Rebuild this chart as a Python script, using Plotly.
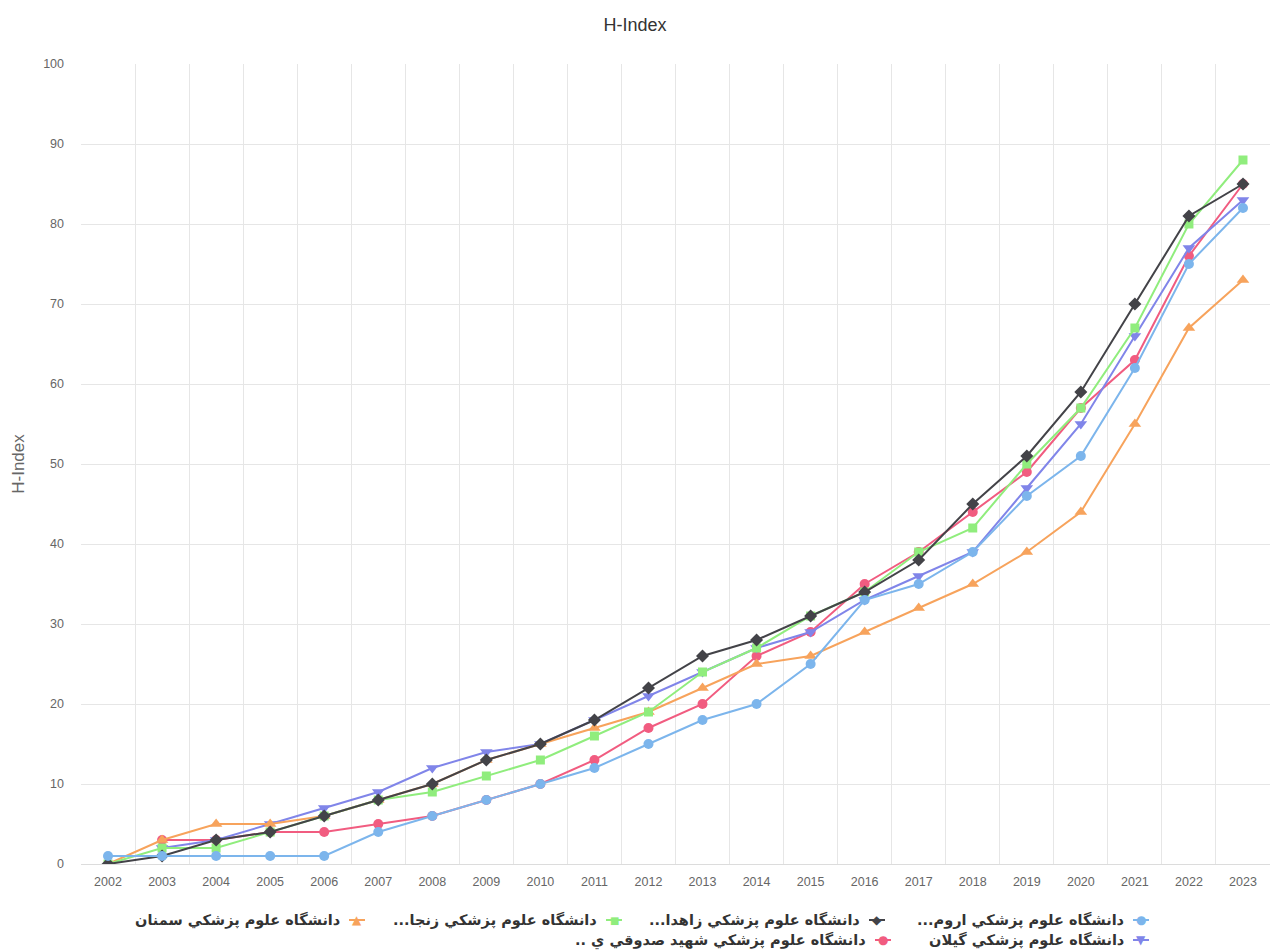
import plotly.graph_objects as go

years = ["2002", "2003", "2004", "2005", "2006", "2007", "2008", "2009", "2010", "2011", "2012",
         "2013", "2014", "2015", "2016", "2017", "2018", "2019", "2020", "2021", "2022", "2023"]

names = [
    "دانشگاه علوم پزشکي اروم...",
    "دانشگاه علوم پزشکي زاهدا...",
    "دانشگاه علوم پزشکي زنجا...",
    "دانشگاه علوم پزشکي سمنان",
    "دانشگاه علوم پزشکي گيلان",
    "دانشگاه علوم پزشکي شهيد صدوقي ي ..",
]

urmia = [1, 1, 1, 1, 1, 4, 6, 8, 10, 12, 15, 18, 20, 25, 33, 35, 39, 46, 51, 62, 75, 82]
zahedan = [0, 1, 3, 4, 6, 8, 10, 13, 15, 18, 22, 26, 28, 31, 34, 38, 45, 51, 59, 70, 81, 85]
zanjan = [0, 2, 2, 4, 6, 8, 9, 11, 13, 16, 19, 24, 27, 31, 34, 39, 42, 50, 57, 67, 80, 88]
semnan = [0, 3, 5, 5, 6, 8, 10, 13, 15, 17, 19, 22, 25, 26, 29, 32, 35, 39, 44, 55, 67, 73]
gilan = [None, 2, 3, 5, 7, 9, 12, 14, 15, 18, 21, 24, 27, 29, 33, 36, 39, 47, 55, 66, 77, 83]
yazd = [None, 3, 3, 4, 4, 5, 6, 8, 10, 13, 17, 20, 26, 29, 35, 39, 44, 49, 57, 63, 76, 85]

series = [urmia, zahedan, zanjan, semnan, gilan, yazd]
colors = ["#7cb5ec", "#434348", "#90ed7d", "#f7a35c", "#8085e9", "#f15c80"]
symbols = ["circle", "diamond", "square", "triangle-up", "triangle-down", "circle"]
sizes = [10, 10, 9, 11, 11, 10]
glyphs = ["●", "◆", "■", "▲", "▼", "●"]

fig = go.Figure()
# draw order: later-listed series underneath
for i in [5, 4, 3, 2, 1, 0]:
    fig.add_trace(go.Scatter(
        x=years, y=series[i], name=names[i], mode="lines+markers",
        line=dict(color=colors[i], width=2),
        marker=dict(symbol=symbols[i], size=sizes[i], color=colors[i]),
        connectgaps=False,
    ))

W, H = 1270, 951
L, T, B = 81, 64, 87
PW, PH = W - L, H - T - B

def px(x):
    return (x - L) / PW

def py(y):
    return (H - B - y) / PH

# custom RTL legend: (series index, text right edge px, row y px)
legend_items = [(0, 1126, 920), (1, 862, 920), (2, 599, 920), (3, 342, 920),
                (4, 1126, 940), (5, 868, 940)]
annotations = []
shapes = []
for idx, xr, yr in legend_items:
    annotations.append(dict(
        xref="paper", yref="paper", x=px(xr), y=py(yr), xanchor="right", yanchor="middle",
        text="<b>" + names[idx] + "\u200f</b>", showarrow=False,
        font=dict(family="DejaVu Sans", size=14.5, color="#333333")))
    cx = xr + 15
    shapes.append(dict(type="line", xref="paper", yref="paper",
                       x0=px(cx - 8), x1=px(cx + 8), y0=py(yr), y1=py(yr),
                       line=dict(color=colors[idx], width=2)))
    annotations.append(dict(
        xref="paper", yref="paper", x=px(cx), y=py(yr), xanchor="center", yanchor="middle",
        text=glyphs[idx], showarrow=False,
        font=dict(family="DejaVu Sans", size=12 if glyphs[idx] != "■" else 10, color=colors[idx])))

fig.update_layout(
    width=W, height=H,
    margin=dict(l=L, r=0, t=T, b=B),
    paper_bgcolor="white", plot_bgcolor="white",
    showlegend=False,
    font=dict(family="Liberation Sans, Arial, sans-serif", color="#666666"),
    title=dict(text="H-Index", x=0.5, xanchor="center", y=1 - 25 / H, yanchor="middle",
               font=dict(size=18, color="#333333")),
    xaxis=dict(type="category", tickson="boundaries", showgrid=True, gridcolor="#e6e6e6",
               gridwidth=1, showline=True, linecolor="#dcdcdc", linewidth=1,
               ticks="", tickfont=dict(size=12.5, color="#666666"), ticklabelstandoff=6,
               range=[-0.5, 21.5], zeroline=False),
    yaxis=dict(range=[0, 100], tickvals=[0, 10, 20, 30, 40, 50, 60, 70, 80, 90, 100],
               showgrid=True, gridcolor="#e6e6e6", gridwidth=1, zeroline=False,
               showline=False, ticks="", tickfont=dict(size=12.5, color="#666666"),
               ticklabelstandoff=16,
               title=dict(text="H-Index", font=dict(size=17, color="#666666"), standoff=14)),
    annotations=annotations,
    shapes=shapes,
)

fig.write_html("out.html", config={"displayModeBar": False},
               post_script="document.body.style.margin='0';")
